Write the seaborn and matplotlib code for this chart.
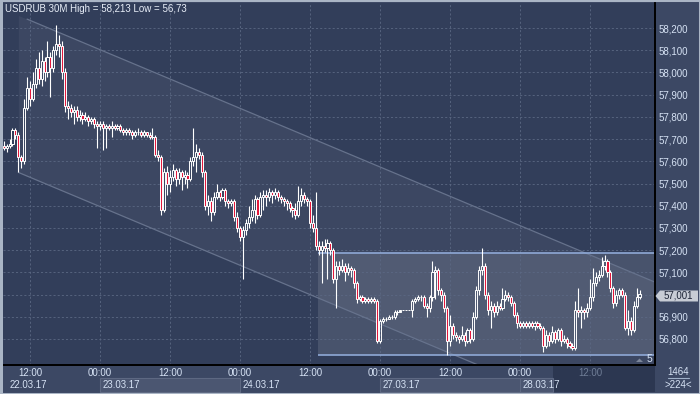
import numpy as np
import pandas as pd
import matplotlib
matplotlib.use("Agg")
import matplotlib.pyplot as plt
import matplotlib.transforms as mtransforms
from matplotlib.patches import Rectangle, Polygon
from matplotlib.lines import Line2D
import seaborn as sns

# ---------------- data ----------------
title_text = "USDRUB 30M High = 58,213 Low = 56,73"
first_open = 57.67

close = [
    57.66, 57.67, 57.68, 57.74, 57.72, 57.62, 57.60, 57.84, 57.93, 57.88,
    57.95, 58.02, 57.97, 58.05, 58.00, 58.07, 58.02, 58.10, 58.13, 58.12,
    58.00, 57.85, 57.84, 57.82, 57.83, 57.80, 57.81, 57.79, 57.80, 57.78,
    57.79, 57.77, 57.76, 57.77, 57.75, 57.76, 57.75, 57.76, 57.75, 57.76,
    57.74, 57.73, 57.74, 57.73, 57.72, 57.73, 57.73, 57.72, 57.73, 57.72,
    57.71, 57.71, 57.63, 57.62, 57.38, 57.55, 57.50, 57.53, 57.56, 57.52,
    57.55, 57.53, 57.54, 57.52, 57.60, 57.62, 57.64, 57.63, 57.55, 57.40,
    57.42, 57.37, 57.44, 57.46, 57.44, 57.47, 57.42, 57.41, 57.42, 57.35,
    57.30, 57.26, 57.29, 57.32, 57.35, 57.38, 57.43, 57.36, 57.44, 57.45,
    57.44, 57.46, 57.45, 57.46, 57.44, 57.43, 57.42, 57.41, 57.39, 57.38,
    57.36, 57.42, 57.45, 57.43, 57.42, 57.32, 57.30, 57.22, 57.20, 57.22,
    57.21, 57.23, 57.20, 57.07, 57.13, 57.11, 57.13, 57.10, 57.12, 57.11,
    57.05, 56.98, 56.99, 56.97, 56.98, 56.97, 56.98, 56.97, 56.79, 56.88,
    56.89, 56.89, 56.90, 56.90, 56.92, 56.92, 56.93, 56.93, 56.93, 56.93,
    56.97, 56.98, 56.99, 56.99, 56.95, 56.94, 56.99, 57.10, 57.11, 57.02,
    57.00, 56.94, 56.79, 56.86, 56.82, 56.81, 56.80, 56.82, 56.79, 56.84,
    56.80, 56.90, 57.02, 57.11, 57.13, 57.00, 56.93, 56.95, 56.92, 56.95,
    56.94, 56.98, 57.00, 56.99, 56.96, 56.91, 56.87, 56.86, 56.87, 56.86,
    56.87, 56.86, 56.87, 56.86, 56.85, 56.77, 56.82, 56.79, 56.83, 56.80,
    56.84, 56.79, 56.80, 56.78, 56.77, 56.76, 56.93, 56.92, 56.93, 56.92,
    56.94, 56.99, 57.05, 57.08, 57.09, 57.13, 57.15, 57.10, 57.03, 56.96,
    57.00, 57.02, 57.00, 56.85, 56.88, 56.84, 56.95, 56.99, 57.001,
]

high = [
    57.69, 57.68, 57.70, 57.75, 57.75, 57.73, 57.63, 57.88, 57.98, 57.96,
    58.00, 58.06, 58.09, 58.10, 58.07, 58.14, 58.09, 58.12, 58.213, 58.17,
    58.14, 58.02, 57.87, 57.86, 57.85, 57.85, 57.83, 57.82, 57.82, 57.81,
    57.80, 57.80, 57.78, 57.78, 57.78, 57.77, 57.77, 57.78, 57.77, 57.77,
    57.77, 57.75, 57.75, 57.75, 57.74, 57.74, 57.75, 57.74, 57.74, 57.73,
    57.73, 57.75, 57.72, 57.65, 57.63, 57.57, 57.58, 57.56, 57.59, 57.57,
    57.57, 57.56, 57.56, 57.55, 57.62, 57.75, 57.68, 57.66, 57.64, 57.56,
    57.45, 57.44, 57.46, 57.50, 57.47, 57.48, 57.48, 57.43, 57.43, 57.43,
    57.37, 57.31, 57.31, 57.34, 57.40, 57.43, 57.45, 57.44, 57.46, 57.47,
    57.47, 57.48, 57.47, 57.48, 57.47, 57.45, 57.44, 57.43, 57.42, 57.40,
    57.41, 57.49, 57.48, 57.46, 57.44, 57.43, 57.36, 57.46, 57.24, 57.24,
    57.25, 57.25, 57.24, 57.21, 57.15, 57.15, 57.16, 57.14, 57.14, 57.13,
    57.12, 57.06, 57.00, 57.00, 56.99, 56.99, 56.99, 56.99, 56.98, 56.89,
    56.90, 56.90, 56.91, 56.91, 56.93, 56.93, 56.93, 56.93, 56.93, 56.93,
    56.98, 56.99, 57.00, 57.00, 57.00, 56.96, 57.00, 57.15, 57.13, 57.12,
    57.03, 57.01, 56.95, 56.91, 56.87, 56.83, 56.82, 56.86, 56.83, 56.85,
    56.85, 56.92, 57.04, 57.13, 57.21, 57.14, 57.01, 56.97, 56.96, 56.97,
    56.96, 57.03, 57.02, 57.01, 57.00, 56.97, 56.92, 56.88, 56.88, 56.88,
    56.88, 56.88, 56.88, 56.88, 56.87, 56.86, 56.84, 56.83, 56.86, 56.84,
    56.85, 56.85, 56.82, 56.81, 56.79, 56.78, 56.97, 57.03, 56.95, 56.94,
    56.96, 57.07, 57.12, 57.10, 57.11, 57.17, 57.18, 57.16, 57.11, 57.04,
    57.02, 57.03, 57.03, 57.01, 56.93, 56.90, 56.97, 57.03, 57.02,
]

low = [
    57.65, 57.64, 57.66, 57.67, 57.70, 57.55, 57.57, 57.59, 57.83, 57.85,
    57.87, 57.93, 57.95, 57.94, 57.96, 57.98, 57.89, 58.00, 58.08, 58.07,
    57.97, 57.82, 57.79, 57.80, 57.77, 57.78, 57.78, 57.77, 57.78, 57.76,
    57.77, 57.75, 57.66, 57.74, 57.65, 57.66, 57.74, 57.71, 57.74, 57.74,
    57.73, 57.72, 57.72, 57.72, 57.70, 57.71, 57.72, 57.71, 57.71, 57.71,
    57.70, 57.70, 57.62, 57.60, 57.36, 57.37, 57.45, 57.46, 57.51, 57.49,
    57.50, 57.47, 57.50, 57.48, 57.51, 57.58, 57.55, 57.61, 57.53, 57.38,
    57.36, 57.33, 57.36, 57.43, 57.42, 57.43, 57.40, 57.39, 57.40, 57.33,
    57.28, 57.24, 57.07, 57.27, 57.30, 57.33, 57.32, 57.34, 57.35, 57.38,
    57.40, 57.42, 57.41, 57.43, 57.42, 57.41, 57.40, 57.38, 57.37, 57.35,
    57.34, 57.35, 57.40, 57.41, 57.40, 57.30, 57.28, 57.20, 57.18, 57.05,
    57.19, 57.07, 57.18, 57.05, 56.94, 57.09, 57.10, 57.06, 57.09, 57.08,
    57.03, 56.96, 56.97, 56.96, 56.96, 56.96, 56.96, 56.96, 56.78, 56.78,
    56.87, 56.88, 56.89, 56.89, 56.89, 56.91, 56.93, 56.93, 56.93, 56.93,
    56.90, 56.96, 56.97, 56.97, 56.94, 56.90, 56.92, 56.97, 56.98, 57.00,
    56.97, 56.92, 56.73, 56.77, 56.80, 56.79, 56.78, 56.79, 56.77, 56.78,
    56.78, 56.79, 56.89, 57.00, 57.09, 56.98, 56.91, 56.85, 56.90, 56.91,
    56.93, 56.93, 56.97, 56.97, 56.95, 56.90, 56.85, 56.85, 56.85, 56.85,
    56.85, 56.85, 56.84, 56.85, 56.84, 56.74, 56.76, 56.77, 56.78, 56.78,
    56.79, 56.77, 56.78, 56.76, 56.76, 56.75, 56.75, 56.90, 56.85, 56.89,
    56.90, 56.93, 56.97, 57.04, 57.06, 57.08, 57.11, 57.08, 57.01, 56.94,
    56.95, 56.98, 56.99, 56.84, 56.82, 56.82, 56.83, 56.94, 56.98,
]

price_ticks = [56.8, 56.9, 57.0, 57.1, 57.2, 57.3, 57.4, 57.5, 57.6,
               57.7, 57.8, 57.9, 58.0, 58.1, 58.2]
time_tick_bars = [9, 33, 57, 81, 105, 129, 153, 177, 201]
time_tick_labels = ["12:00", "00:00", "12:00", "00:00", "12:00",
                    "00:00", "12:00", "00:00", "12:00"]
date_labels = ["22.03.17", "23.03.17", "24.03.17", "27.03.17", "28.03.17"]
date_start_bars = [0, 33, 81, 129, 177]
last_price = 57.001
last_price_text = "57,001"
bars_text = "1464"
shift_text = ">224<"
marker_text = "5"

# channel and range box (price levels)
upper_anchor = (8, 58.24)
lower_anchor = (5, 57.55)
channel_slope = -0.0055
box_left_bar = 107.7
box_low, box_high = 56.727, 57.186

# ---------------- style ----------------
sns.set_theme(style="dark")
plt.rcParams["font.family"] = ["Liberation Sans", "DejaVu Sans"]

W, H = 700, 394
BG_PANEL = "#3c4864"
BG_PLOT = "#323e5a"
TXT = "#d6e2f4"

fig = plt.figure(figsize=(W / 100, H / 100), dpi=100)
fig.patch.set_facecolor(BG_PANEL)


def fx(px):
    return px / W


def fy(py):
    return 1 - py / H


ax = fig.add_axes([fx(3), fy(365), fx(655) - fx(3), fy(3) - fy(365)])
ax.set_facecolor(BG_PLOT)
x0, x1 = -0.257, 223.3
y0, y1 = 56.6829, 58.3126
ax.set_xlim(x0, x1)
ax.set_ylim(y0, y1)

# channel fill and lines
xs = np.linspace(lower_anchor[0], x1, 200)
up = upper_anchor[1] + channel_slope * (xs - upper_anchor[0])
lo = lower_anchor[1] + channel_slope * (xs - lower_anchor[0])
ax.fill_between(xs, np.maximum(lo, y0), up, color="white", alpha=0.05,
                lw=0, zorder=0.2)
df_up = pd.DataFrame({"bar": [upper_anchor[0], x1],
                      "price": [upper_anchor[1],
                                upper_anchor[1] + channel_slope * (x1 - upper_anchor[0])]})
df_lo = pd.DataFrame({"bar": [lower_anchor[0], x1],
                      "price": [lower_anchor[1],
                                lower_anchor[1] + channel_slope * (x1 - lower_anchor[0])]})
for d in (df_up, df_lo):
    sns.lineplot(data=d, x="bar", y="price", ax=ax, color="#66728c",
                 lw=0.9, estimator=None, sort=False, zorder=1.2)

# range box
ax.add_patch(Rectangle((box_left_bar, box_low), x1 - box_left_bar + 5,
                       box_high - box_low, facecolor="white", alpha=0.11,
                       lw=0, zorder=0.3))
ax.hlines([box_low, box_high], box_left_bar, x1 + 5, colors="#8fa9d6",
          lw=1.2, zorder=1.3)

# grid
ax.grid(False)
ax.hlines(price_ticks, x0, x1, colors="#5b6883", linestyles=(0, (2.5, 2.5)),
          lw=0.6, zorder=1.0)
ax.vlines(time_tick_bars, y0, y1, colors="#5b6883", linestyles=(0, (2.5, 2.5)),
          lw=0.6, zorder=1.0)

# candles
c = np.array(close)
o = np.concatenate([[first_open], c[:-1]])
hi = np.array(high)
lw_ = np.array(low)
bars = np.arange(len(c))
top = np.maximum(o, c)
bot = np.minimum(o, c)
bear = c < o
ax.vlines(bars, top, hi, colors="white", lw=0.8, zorder=4)
ax.vlines(bars, lw_, bot, colors="white", lw=0.8, zorder=4)
heights = np.maximum(top - bot, 0.0006)
ax.bar(bars[~bear], heights[~bear], bottom=bot[~bear], width=0.72,
       facecolor="none", edgecolor="white", linewidth=0.7, zorder=5)
ax.bar(bars[bear], heights[bear], bottom=bot[bear], width=0.72,
       facecolor="#e3183c", edgecolor="white", linewidth=0.7, zorder=5)

# axes / spines
for s in ("top", "left"):
    ax.spines[s].set_visible(False)
for s in ("right", "bottom"):
    ax.spines[s].set_visible(True)
    ax.spines[s].set_color("black")
    ax.spines[s].set_linewidth(1.4)
    ax.spines[s].set_zorder(10)

# price labels (the level hidden by the last-price tag is left unlabelled)
ax.yaxis.tick_right()
ax.set_yticks(price_ticks)
ax.set_yticklabels(["" if abs(v - last_price) < 0.05 else
                    f"{v:.3f}".replace(".", ",") for v in price_ticks])
ax.tick_params(axis="y", length=0, pad=2.2, labelsize=7, labelcolor=TXT,
               right=True, left=False, labelright=True, labelleft=False)
ax.set_xticks(time_tick_bars)
ax.set_xticklabels(time_tick_labels)
ax.tick_params(axis="x", length=0, pad=2.0, labelsize=7, labelcolor=TXT)
ax.set_xlabel("")
ax.set_ylabel("")

# bottom axis: dark shift area and date boxes
trans_b = mtransforms.blended_transform_factory(ax.transData, fig.transFigure)
shade_start = 188.3
ax.add_patch(Rectangle((shade_start, fy(392)), x1 - shade_start,
                       fy(366) - fy(392), transform=trans_b,
                       facecolor="#2c3751", lw=0, clip_on=False, zorder=0.5))
ax.get_xticklabels()[-1].set_color("#6f7d96")
for k in (1, 3, 4):
    start = date_start_bars[k]
    end = date_start_bars[k + 1] if k + 1 < len(date_start_bars) else shade_start
    ax.add_patch(Rectangle((start, fy(392)), end - start, fy(378) - fy(392),
                           transform=trans_b, facecolor="#4b5671",
                           edgecolor="#5d6882", lw=0.8, clip_on=False,
                           zorder=0.6))
for k, lab in enumerate(date_labels):
    xb = 2.1 if k == 0 else date_start_bars[k] + 1.0
    ax.text(xb, fy(385.5), lab, transform=trans_b, ha="left", va="center",
            fontsize=7, color=TXT, clip_on=False, zorder=2)

# title
fig.text(fx(5), fy(8.5), title_text, ha="left", va="center", fontsize=7,
         color="#e8eef8")

# current price tag
tag = Polygon([(fx(655.5), fy(296)), (fx(660), fy(290.5)), (fx(698), fy(290.5)),
               (fx(698), fy(301.5)), (fx(660), fy(301.5))], closed=True,
              transform=fig.transFigure, facecolor="#c7ccd5", edgecolor="none")
fig.patches.append(tag)
fig.text(fx(678.5), fy(296), last_price_text, ha="center", va="center",
         fontsize=7, color="#1c2436")

# marker "5" at bottom right of the plot
ax.text(0.9965, fy(359.5), marker_text, transform=mtransforms.blended_transform_factory(
    ax.transAxes, fig.transFigure), ha="right", va="center", fontsize=7.5,
    color=TXT, zorder=6)
fig.patches.append(Polygon([(fx(636), fy(362)), (fx(639.5), fy(358.5)),
                            (fx(643), fy(362))], closed=True,
                           transform=fig.transFigure, facecolor="#7b8599",
                           edgecolor="none"))

# bottom-right corner counters
fig.text(fx(678), fy(372), bars_text, ha="center", va="center", fontsize=7,
         color=TXT)
fig.lines.append(Line2D([fx(668), fx(689)], [fy(378), fy(378)],
                        transform=fig.transFigure, color="#9fb0c8", lw=0.8))
fig.text(fx(678), fy(385), shift_text, ha="center", va="center", fontsize=7,
         color=TXT)

# outer light frame
fig.patches.append(Rectangle((0, 0), 1, 1, transform=fig.transFigure,
                             facecolor="none", edgecolor="#aab5c5", lw=2.2))
fig.patches.append(Rectangle((0, 0), fx(3), 1, transform=fig.transFigure,
                             facecolor="#aab5c5", edgecolor="none"))

fig.savefig("out.png", dpi=100, facecolor=fig.get_facecolor())
